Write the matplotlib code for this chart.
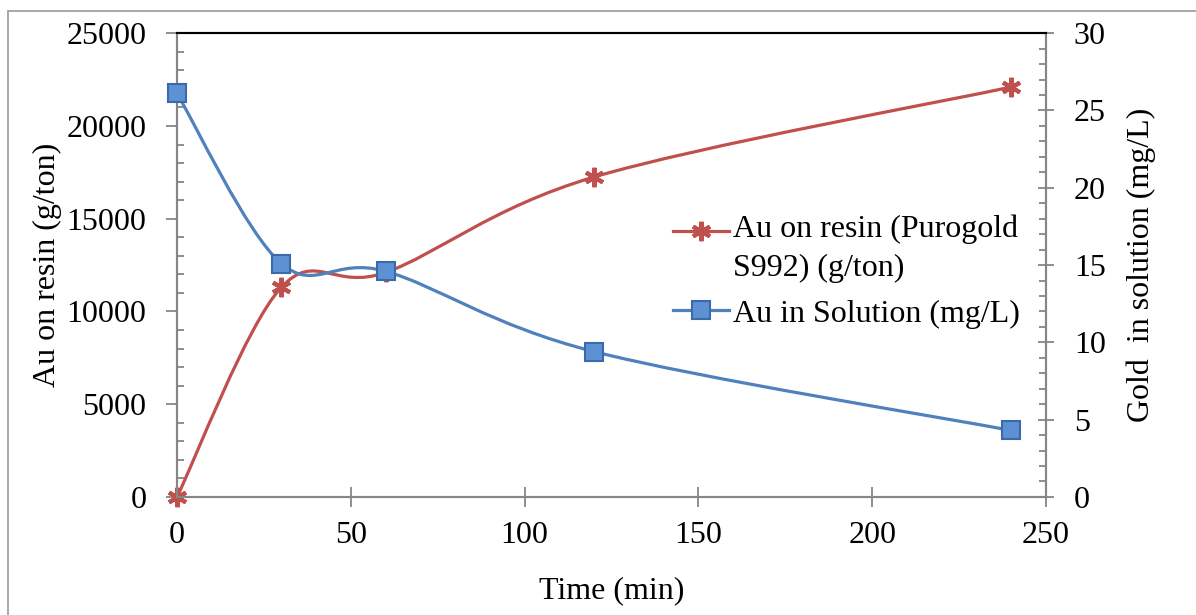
import numpy as np
import matplotlib.pyplot as plt
from matplotlib.path import Path
from matplotlib.patches import PathPatch, Rectangle
from matplotlib.lines import Line2D
from matplotlib.ticker import MultipleLocator

# -----------------------------------------------------------------------------
# Datos
# -----------------------------------------------------------------------------
time_min = [0, 30, 60, 120, 240]
au_resin = [0, 11300, 12100, 17250, 22100]     # g/ton (eje izquierdo)
au_solution = [26.1, 15.1, 14.6, 9.4, 4.3]     # mg/L (eje derecho)

label_resin = "Au on resin (Purogold\nS992) (g/ton)"
label_solution = "Au in Solution (mg/L)"

RED = "#C0504D"
BLUE = "#4F81BD"
GREY = "#868686"

plt.rcParams['font.family'] = ['Liberation Serif', 'DejaVu Serif']
FS = 23


# Curva suavizada tipo Excel: Bezier cubico (Catmull-Rom) dibujado por Path
def smooth_path(x, y):
    P = np.column_stack([x, y]).astype(float)
    n = len(P)
    verts = [P[0]]
    codes = [Path.MOVETO]
    for i in range(n - 1):
        p0 = P[max(i - 1, 0)]
        p1 = P[i]
        p2 = P[i + 1]
        p3 = P[min(i + 2, n - 1)]
        c1 = p1 + (p2 - p0) / 6.0
        c2 = p2 - (p3 - p1) / 6.0
        verts += [c1, c2, p2]
        codes += [Path.CURVE4] * 3
    return Path(verts, codes)


fig = plt.figure(figsize=(11.96, 6.15), dpi=100)
ax = fig.add_axes([0.148, 0.192, 0.7266, 0.754])
ax2 = ax.twinx()

# borde del area del grafico
fig.patches.append(Rectangle((8 / 1196, -0.1), 1.2, 1 - 11 / 615 + 0.1,
                             transform=fig.transFigure, fill=False,
                             edgecolor="#9a9a9a", lw=1.2))

red_marker = dict(marker=(6, 2, 0), ms=14, mew=3.0)
blue_marker = dict(marker='s', ms=13, mew=1.5, mfc="#5E91D3", mec="#3A6BA8")

# Serie roja (eje izquierdo)
ax.add_patch(PathPatch(smooth_path(time_min, au_resin), fill=False,
                       edgecolor=RED, lw=2.3, zorder=2))
ax.plot(time_min, au_resin, ls='none', color=RED, zorder=3, clip_on=False,
        **red_marker)

# Serie azul (eje derecho)
ax2.add_patch(PathPatch(smooth_path(time_min, au_solution), fill=False,
                        edgecolor=BLUE, lw=2.3, zorder=2))
ax2.plot(time_min, au_solution, ls='none', zorder=3, clip_on=False,
         **blue_marker)

ax.set_xlim(0, 250)
ax.set_ylim(0, 25000)
ax2.set_ylim(0, 30)

ax.xaxis.set_major_locator(MultipleLocator(50))
ax.yaxis.set_major_locator(MultipleLocator(5000))
ax.yaxis.set_minor_locator(MultipleLocator(1000))
ax2.yaxis.set_major_locator(MultipleLocator(5))
ax2.yaxis.set_minor_locator(MultipleLocator(1))

for a in (ax, ax2):
    for s in ('left', 'right', 'bottom'):
        a.spines[s].set_color(GREY)
        a.spines[s].set_linewidth(1.5)
    a.spines['top'].set_color('black')
    a.spines['top'].set_linewidth(1.5)

ax.tick_params(axis='x', which='major', direction='inout', length=14,
               width=1.3, color=GREY, labelsize=FS, pad=10)
ax.tick_params(axis='y', which='major', direction='out', length=8,
               width=1.3, color=GREY, labelsize=FS, pad=14)
ax.tick_params(axis='y', which='minor', direction='in', length=5,
               width=1.3, color=GREY)
ax2.tick_params(axis='y', which='major', direction='inout', length=12,
                width=1.3, color=GREY, labelsize=FS, pad=14)
ax2.tick_params(axis='y', which='minor', direction='in', length=5,
                width=1.3, color=GREY)

ax.set_xlabel("Time (min)", fontsize=FS, labelpad=19)
ax.set_ylabel("Au on resin (g/ton)", fontsize=FS, labelpad=3)
ax2.set_ylabel("Gold  in solution (mg/L)", fontsize=FS, labelpad=15)

handles = [
    Line2D([], [], color=RED, lw=2.3, **red_marker),
    Line2D([], [], color=BLUE, lw=2.3, **blue_marker),
]
leg = ax2.legend(handles, [label_resin, label_solution], loc='upper left',
                 bbox_to_anchor=(0.552, 0.643), frameon=False, fontsize=FS,
                 handlelength=1.75, handletextpad=0.15, labelspacing=0.5,
                 borderpad=0)
leg.get_texts()[0].set_linespacing(1.45)
# alinear el simbolo rojo con la primera linea del texto (como Excel)
h0 = leg.legend_handles[0]
h0.set_ydata(np.asarray(h0.get_ydata()) + 13)

fig.savefig("out.png", dpi=100)
